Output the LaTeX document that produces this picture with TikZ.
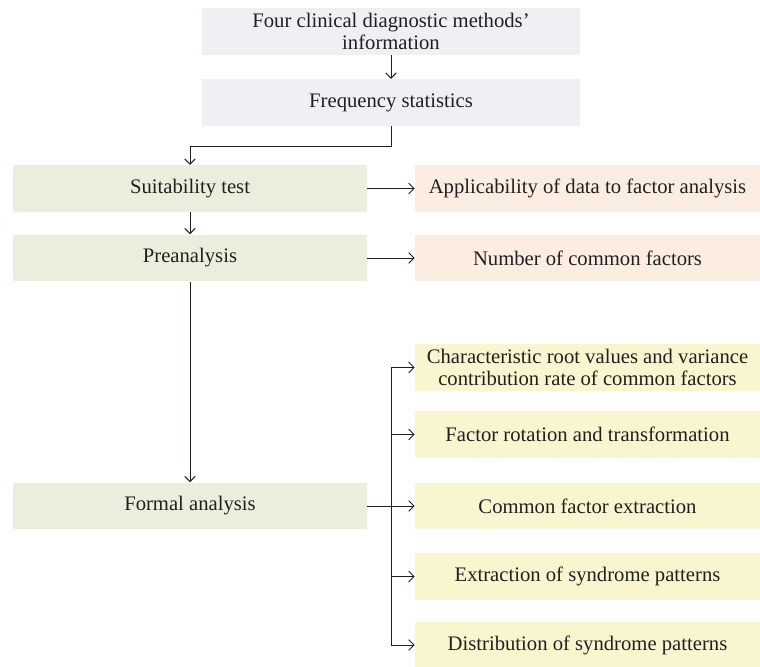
\documentclass[tikz,border=0pt]{standalone}
\usepackage{fontspec}
\setmainfont{Liberation Serif}
\usetikzlibrary{arrows.meta,positioning}
\definecolor{ink}{HTML}{231F20}
\definecolor{lav}{HTML}{EFEFF4}
\definecolor{sage}{HTML}{E9EEDD}
\definecolor{peach}{HTML}{FBEDE2}
\definecolor{straw}{HTML}{F8F6CF}

\begin{document}
\begin{tikzpicture}[x=0.75pt,y=-0.75pt,
    every node/.style={font=\fontsize{15.5}{16}\selectfont,text=ink},
    box/.style={inner sep=0pt,minimum height=35pt,align=center},
    topbox/.style={box,fill=lav,minimum width=283.5pt},
    stagebox/.style={box,fill=sage,minimum width=265.5pt},
    resbox/.style={box,fill=peach,minimum width=258.75pt},
    outbox/.style={box,fill=straw,minimum width=258.75pt},
    arr/.style={-{Straight Barb[length=4pt,width=8pt]},line width=0.75pt,ink}]
      \useasboundingbox (0,0) rectangle (760,667);
      \node[topbox] (info) at (391,31.5) {Four clinical diagnostic methods’\\information};
      \node[topbox] (freq) at (391,102.5) {Frequency statistics};
      \node[stagebox] (suit) at (190,188.5) {Suitability test};
      \node[stagebox] (pre) at (190,258) {Preanalysis};
      \node[stagebox] (formal) at (190,506) {Formal analysis};
      \node[resbox] (appl) at (587.5,188.5) {Applicability of data to factor analysis};
      \node[resbox] (num) at (587.5,258) {Number of common factors};
      \node[outbox] (root) at (587.5,367.5) {Characteristic root values and variance\\contribution rate of common factors};
      \node[outbox] (rot) at (587.5,434.5) {Factor rotation and transformation};
      \node[outbox] (extr) at (587.5,506) {Common factor extraction};
      \node[outbox] (synd) at (587.5,576.5) {Extraction of syndrome patterns};
      \node[outbox] (dist) at (587.5,645) {Distribution of syndrome patterns};
      \coordinate (bend) at (190,146);
      \coordinate (spine) at (391,0);
      \draw[arr] (info) -- (freq);
      \draw[arr] (freq.south) |- (bend) -- (suit.north);
      \draw[arr] (suit) -- (appl);
      \draw[arr] (suit) -- (pre);
      \draw[arr] (pre) -- (num);
      \draw[arr] (pre) -- (formal);
      % branch to the outputs
      \draw[line width=0.75pt,ink] (formal.east) -- (formal.east -| spine);
      \draw[line width=0.75pt,ink] (root.west -| spine) -- (dist.west -| spine);
      \foreach \n in {root,rot,extr,synd,dist}
        \draw[arr] (\n.west -| spine) -- (\n.west);
    \end{tikzpicture}
\end{document}
